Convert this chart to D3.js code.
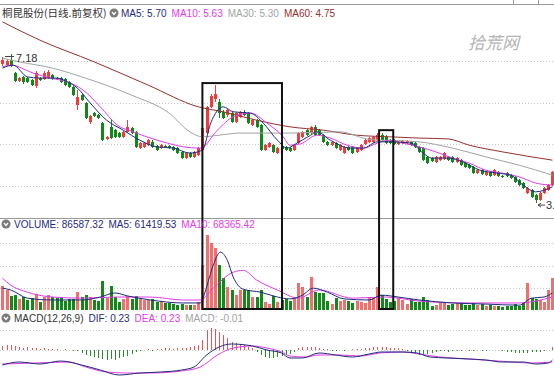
<!DOCTYPE html>
<html><head><meta charset="utf-8">
<script src="https://cdn.jsdelivr.net/npm/d3@7"></script>
<style>
html,body{margin:0;padding:0;background:#fff;overflow:hidden}
svg{display:block}
text{font-family:"Liberation Sans",Arial,"Noto Sans CJK SC",sans-serif}
</style></head>
<body>
<svg id="c" width="554" height="376"></svg>
<script>
// ---------------- DATA ----------------
const title = "桐昆股份(日线.前复权)";
const maLabels = ["MA5", "MA10", "MA30", "MA60"];
const maLegendValues = ["5.70", "5.63", "5.30", "4.75"];
const volLabels = ["VOLUME", "MA5", "MA10"];
const volLegendValues = ["86587.32", "61419.53", "68365.42"];
const macdLabels = ["DIF", "DEA", "MACD"];
const macdLegendValues = ["0.23", "0.23", "-0.01"];
const watermark = "拾荒网";

const open = [6.93,6.90,7.02,6.71,6.52,6.62,6.59,6.54,6.40,6.59,6.57,6.59,6.66,6.59,6.59,6.57,6.50,6.38,5.94,6.18,
6.00,5.54,5.75,5.70,5.51,5.13,5.42,5.34,5.27,5.18,5.30,5.39,5.30,4.91,4.94,4.98,5.06,4.96,4.91,4.96,
4.96,4.94,4.91,4.82,4.67,4.79,4.70,4.74,4.86,5.27,5.90,6.10,6.02,5.78,5.70,5.75,5.54,5.66,5.78,5.75,
5.46,5.58,5.46,4.86,4.94,4.98,4.79,4.96,4.94,4.91,4.86,5.03,5.18,5.34,5.27,5.42,5.34,5.22,5.06,4.98,
5.03,4.86,4.79,4.94,4.94,4.82,4.86,5.01,5.06,5.06,5.10,5.22,5.18,5.10,5.10,5.01,5.03,5.03,5.06,5.03,
4.94,4.91,4.70,4.67,4.58,4.62,4.65,4.70,4.70,4.58,4.62,4.55,4.50,4.46,4.31,4.38,4.26,4.34,4.26,4.34,
4.24,4.31,4.26,4.22,4.14,4.07,3.83,3.90,3.78,3.66,3.83,3.90,4.02];
const high = [7.09,7.05,7.18,6.74,6.62,6.64,6.62,6.57,6.76,6.62,6.76,6.78,6.69,6.62,6.62,6.59,6.52,6.40,6.30,6.21,
6.02,5.70,5.78,5.73,5.54,5.20,5.58,5.37,5.30,5.32,5.58,5.42,5.32,5.06,5.06,5.13,5.10,4.98,5.01,4.98,
4.98,4.96,4.94,4.84,4.82,4.82,4.84,4.94,5.42,5.92,6.20,6.42,6.08,5.82,5.85,5.80,5.78,5.80,5.82,5.78,
5.60,5.61,5.49,5.01,5.06,5.01,4.94,4.98,4.96,4.94,5.01,5.30,5.32,5.37,5.44,5.46,5.37,5.25,5.08,5.08,
5.06,5.01,4.96,4.96,4.96,4.94,5.01,5.13,5.18,5.20,5.27,5.27,5.22,5.13,5.13,5.08,5.10,5.10,5.08,5.06,
4.96,4.94,4.72,4.70,4.72,4.72,4.82,4.72,4.72,4.70,4.65,4.58,4.53,4.48,4.41,4.41,4.36,4.36,4.41,4.36,
4.26,4.34,4.29,4.24,4.17,4.10,3.98,3.93,3.80,3.85,3.98,4.05,4.36];
const low = [6.88,6.88,6.86,6.50,6.50,6.45,6.47,6.40,6.35,6.52,6.54,6.57,6.54,6.54,6.47,6.40,6.35,6.16,5.82,6.04,
5.61,5.49,5.66,5.61,5.08,5.10,5.13,5.15,5.15,5.15,5.27,5.25,4.91,4.89,4.91,4.96,4.91,4.84,4.89,4.91,
4.89,4.84,4.77,4.65,4.65,4.67,4.67,4.72,4.84,5.25,5.87,6.02,5.63,5.61,5.66,5.52,5.51,5.63,5.68,5.49,
5.44,5.40,4.84,4.84,4.91,4.79,4.77,4.86,4.84,4.82,4.84,5.01,5.15,5.20,5.25,5.20,5.20,5.04,4.96,4.96,
4.89,4.84,4.77,4.84,4.77,4.79,4.84,4.98,5.03,5.03,5.08,5.08,5.01,5.01,4.98,4.98,5.01,5.01,4.96,4.91,
4.79,4.60,4.52,4.58,4.55,4.60,4.62,4.60,4.55,4.55,4.48,4.43,4.41,4.29,4.29,4.26,4.24,4.22,4.24,4.22,
4.19,4.22,4.17,4.07,4.00,3.93,3.80,3.71,3.59,3.64,3.80,3.88,4.00];
const close = [7.02,7.00,6.88,6.52,6.59,6.50,6.50,6.42,6.71,6.54,6.71,6.74,6.57,6.57,6.50,6.42,6.38,6.18,6.14,6.06,
5.63,5.68,5.68,5.63,5.10,5.18,5.15,5.18,5.18,5.30,5.42,5.27,4.94,5.03,5.03,5.10,4.94,4.86,4.98,4.94,
4.91,4.86,4.79,4.67,4.79,4.70,4.82,4.91,5.39,5.90,6.16,6.20,5.75,5.63,5.82,5.54,5.75,5.78,5.70,5.51,
5.58,5.42,4.86,4.98,5.03,4.82,4.91,4.89,4.86,4.84,4.98,5.27,5.30,5.22,5.42,5.22,5.22,5.06,4.98,5.06,
4.91,4.98,4.94,4.86,4.79,4.91,4.98,5.10,5.15,5.18,5.22,5.10,5.03,5.03,5.01,5.06,5.08,5.08,4.98,4.94,
4.82,4.62,4.55,4.60,4.70,4.70,4.79,4.62,4.58,4.67,4.50,4.46,4.43,4.31,4.38,4.29,4.34,4.24,4.38,4.24,
4.22,4.24,4.19,4.10,4.02,3.95,3.95,3.74,3.66,3.83,3.95,4.02,4.34];
const volume = [64800,54000,37800,40500,29700,35100,27000,32400,43200,21600,35100,40500,35100,32400,35100,24300,29700,29700,48600,35100,
40500,35100,27000,24300,78300,32400,64800,35100,21600,29700,37800,29700,37800,29700,27000,27000,29700,21600,24300,18900,
18900,16200,13500,16200,13500,13500,13500,21600,121500,202500,180900,167400,121500,86400,62100,54000,40500,54000,54000,54000,
35100,35100,54000,21600,16200,37800,21600,27000,29700,24300,32400,72900,62100,35100,89100,48600,45900,45900,24300,16200,
32400,24300,27000,24300,18900,24300,21600,18900,35100,32400,62100,40500,29700,21600,24300,32400,27000,16200,29700,21600,
21600,35100,27000,10800,13500,18900,18900,13500,16200,18900,18900,13500,13500,18900,13500,16200,10800,13500,10800,10800,
8100,10800,10800,16200,10800,18900,72900,32400,29700,27000,21600,54000,86587];
const macdHist = [0.04,0.05,0.05,0.04,0.03,0.02,0.03,0.02,0.02,0.01,0.02,0.01,0.01,0.01,0.00,0.01,0.00,-0.01,-0.01,-0.03,
-0.05,-0.06,-0.07,-0.08,-0.09,-0.10,-0.09,-0.10,-0.08,-0.07,-0.06,-0.04,-0.02,-0.01,0.00,0.01,-0.01,0.01,0.01,0.02,
0.02,0.01,0.02,0.02,0.02,0.03,0.04,0.05,0.10,0.20,0.22,0.21,0.18,0.15,0.12,0.08,0.07,0.06,0.05,0.03,
0.02,-0.02,-0.05,-0.07,-0.08,-0.08,-0.07,-0.06,-0.05,-0.04,-0.02,0.02,0.03,0.03,0.03,0.03,0.02,0.01,0.01,-0.01,
-0.01,0.00,-0.01,0.00,0.01,0.01,0.01,0.02,0.02,0.03,0.03,0.03,0.03,0.02,0.02,0.02,0.01,-0.01,-0.02,-0.04,
-0.05,-0.05,-0.04,-0.03,-0.02,-0.01,-0.01,-0.02,-0.01,-0.01,-0.01,0.00,-0.01,-0.01,0.00,-0.01,-0.01,0.00,0.00,0.00,
-0.01,-0.02,-0.02,-0.03,-0.03,-0.03,-0.03,-0.02,-0.02,-0.02,-0.01,0.00,0.03];

// moving-average / indicator lines: [candle index, value]
const ma5 = [[0,6.83],[2.6,6.90],[6,6.62],[9,6.59],[13,6.59],[15.6,6.50],[18,6.35],[21,6.00],[25,5.58],[29,5.34],[33,5.10],[37,4.94],[41,4.91],[45,4.79],[48,4.86],[50,5.51],[53,5.90],[55.4,5.78],[59.5,5.75],[62.6,5.51],[66,5.10],[68.3,4.91],[70.7,5.03],[74,5.22],[75.5,5.30],[78.7,5.10],[83.5,4.91],[86.6,4.91],[90,5.06],[93,5.06],[98,5.03],[101,4.79],[103,4.67],[107,4.67],[110.5,4.58],[114.6,4.38],[118.7,4.31],[122,4.26],[125,4.02],[128,3.86],[132,3.98]];
const ma10 = [[0,6.86],[2,6.90],[7.4,6.71],[11.5,6.59],[15.6,6.50],[19.4,6.30],[23.5,5.90],[27.6,5.46],[31.4,5.30],[35.5,5.15],[39.6,5.03],[43.4,4.94],[47.5,4.91],[51.6,5.34],[55.4,5.66],[59.5,5.75],[63.5,5.51],[67.4,5.18],[69,4.98],[71.5,5.01],[75.5,5.22],[78.7,5.15],[82.7,4.98],[86.6,4.91],[90,5.03],[93,5.10],[96,5.03],[100,4.94],[104,4.82],[108,4.67],[112,4.55],[116,4.38],[120,4.31],[124,4.22],[128,4.07],[132,4.02]];
const ma30 = [[0,7.07],[4,6.98],[12,6.83],[19,6.62],[31,6.18],[40,5.75],[45,5.30],[48,5.18],[52,5.22],[57,5.27],[69,5.27],[81,5.30],[88,5.12],[100,5.06],[108,4.91],[116,4.70],[124,4.50],[132,4.26]];
const ma60 = [[0,7.94],[9,7.50],[22,6.98],[35,6.42],[47,5.90],[53,5.78],[61,5.58],[69,5.42],[77,5.34],[85,5.22],[93,5.18],[100,5.15],[107,5.13],[112,4.98],[120,4.82],[132,4.62]];
const volMa5 = [[0,59000],[2,54000],[6,32000],[12,27000],[19,27000],[23.5,35000],[27,46000],[30,38000],[35.5,27000],[43.4,19000],[47.5,19000],[49,62000],[50.6,121000],[52.3,156000],[54,134000],[55.4,89000],[57.8,56000],[62,48000],[66,35000],[69,30000],[72,40000],[74.6,59000],[78,48000],[82,30000],[88,27000],[91,40000],[95,35000],[100,27000],[108,19000],[116,16000],[124,13000],[127,32000],[130,35000],[132,46000]];
const volMa10 = [[0,86000],[2,67000],[6,48000],[12,35000],[19,32000],[27.6,35000],[35.5,35000],[43.4,27000],[47.5,27000],[50.6,59000],[55.4,102000],[57.8,107000],[61,81000],[66,54000],[71,32000],[76,54000],[84,32000],[92,35000],[100,24000],[112,19000],[124,19000],[132,35000]];
const dif = [[0,-0.15],[4,-0.12],[9,-0.14],[14,-0.11],[19,-0.15],[23.5,-0.20],[28,-0.25],[33,-0.23],[38,-0.22],[43,-0.20],[46,-0.17],[49,-0.05],[52,0.03],[55,0.06],[60,0.04],[63.5,0.00],[67,-0.03],[69,-0.08],[72,-0.08],[76,-0.03],[80,-0.05],[84,-0.07],[88,-0.04],[91,-0.02],[96,-0.02],[99.5,-0.03],[102.6,-0.07],[106.7,-0.08],[112,-0.09],[116,-0.10],[120,-0.12],[125,-0.12],[128,-0.14],[131,-0.13],[132,-0.10]];
const dea = [[0,-0.14],[8,-0.13],[16,-0.12],[20,-0.17],[25,-0.22],[30,-0.23],[35.5,-0.23],[43,-0.21],[47.5,-0.17],[51.6,-0.05],[55.4,0.02],[60,0.04],[63.5,0.02],[67,-0.02],[69,-0.06],[72.7,-0.07],[76,-0.05],[81,-0.05],[86,-0.06],[90.6,-0.03],[96,-0.02],[100,-0.04],[105,-0.07],[112,-0.09],[119,-0.11],[127,-0.13],[132,-0.12]];

// annotation boxes: candle index range and top price
const boxes = [{from: 48, to: 67.1, top: 6.47}, {from: 90.4, to: 93.8, top: 5.34}];
const priceGrid = [4, 5, 6, 7];
const volGrid = [60000, 120000, 180000];
const macdGrid = [0.2];

// ---------------- DRAW ----------------
const W = 554, H = 376, N = close.length;
const svg = d3.select("#c");
const RED = "#ef3d3d", RED_V = "#f36f6f", GREEN = "#12881a";
const C_MA5 = "#1f2b7c", C_MA10 = "#e23ce6", C_MA30 = "#a3a3a3", C_MA60 = "#962f2f";

const x = d3.scaleLinear().domain([0, N - 1]).range([2.4, 552.4]);
const yP = d3.scaleLinear().domain([4, 7]).range([186, 61]);
const yV = d3.scaleLinear().domain([0, 180000]).range([310, 243.3]);
const yM = d3.scaleLinear().domain([0, 0.2]).range([350, 330]);

const defs = svg.append("defs");
defs.append("clipPath").attr("id", "cp").append("rect").attr("x", 0).attr("y", 19).attr("width", W).attr("height", 198);
defs.append("clipPath").attr("id", "cv").append("rect").attr("x", 0).attr("y", 219).attr("width", W).attr("height", 92);
defs.append("clipPath").attr("id", "cm").append("rect").attr("x", 0).attr("y", 312).attr("width", W).attr("height", 64);

// top bar line
svg.append("line").attr("x1", 0).attr("x2", W).attr("y1", 4.5).attr("y2", 4.5).attr("stroke", "#9a9a9a");
[513.5, 538.5].forEach(v => svg.append("line").attr("x1", v).attr("x2", v).attr("y1", 0).attr("y2", 4.5).attr("stroke", "#9a9a9a"));

// separators
svg.append("line").attr("x1", 0).attr("x2", W).attr("y1", 218.5).attr("y2", 218.5).attr("stroke", "#9a9a9a");

// gridlines
function grid(vals, scale) {
  svg.append("g").selectAll("line").data(vals).join("line")
    .attr("x1", 0).attr("x2", W)
    .attr("y1", d => Math.round(scale(d)) + 0.5).attr("y2", d => Math.round(scale(d)) + 0.5)
    .attr("stroke", "#c8c8c8").attr("stroke-dasharray", "1,2");
}
grid(priceGrid, yP);
grid(volGrid, yV);
grid(macdGrid.concat([0]), yM);

// watermark
svg.append("text").attr("x", 468).attr("y", 49).text(watermark)
  .attr("font-size", 17).attr("font-style", "italic").attr("fill", "#b4b4b4")
  .style("font-family", "'Noto Sans CJK SC',sans-serif");

const idx = d3.range(N);
const cx = i => Math.round(x(i));
const up = i => close[i] >= open[i];

// candles
const gC = svg.append("g").attr("clip-path", "url(#cp)").attr("shape-rendering", "crispEdges");
gC.selectAll("line").data(idx).join("line")
  .attr("x1", i => cx(i) + 0.5).attr("x2", i => cx(i) + 0.5)
  .attr("y1", i => yP(high[i])).attr("y2", i => yP(low[i]))
  .attr("stroke", i => up(i) ? RED : GREEN);
gC.selectAll("rect").data(idx).join("rect")
  .attr("x", i => cx(i) - 1).attr("width", 3)
  .attr("y", i => Math.min(yP(open[i]), yP(close[i])))
  .attr("height", i => Math.max(1, Math.abs(yP(open[i]) - yP(close[i]))))
  .attr("fill", i => up(i) ? RED : GREEN);

// MA lines
function drawLine(g, pts, scale, color) {
  g.append("path").datum(pts)
    .attr("d", d3.line().x(d => x(d[0])).y(d => scale(d[1])).curve(d3.curveMonotoneX))
    .attr("fill", "none").attr("stroke", color).attr("stroke-width", 1);
}
const gL = svg.append("g").attr("clip-path", "url(#cp)");
drawLine(gL, ma60, yP, C_MA60);
drawLine(gL, ma30, yP, C_MA30);
drawLine(gL, ma10, yP, C_MA10);
drawLine(gL, ma5, yP, C_MA5);

// max / min markers
const hiI = d3.maxIndex(high), loI = d3.minIndex(low);
svg.append("path").attr("d", `M${cx(hiI) - 6},${yP(high[hiI]) + 3} L${cx(hiI) + 3},${yP(high[hiI]) + 3}`)
  .attr("stroke", "#444").attr("fill", "none");
svg.append("text").attr("x", cx(hiI) + 5).attr("y", yP(high[hiI]) + 8).text(high[hiI].toFixed(2))
  .attr("font-size", 11).attr("fill", "#333");
const ly = yP(low[loI]) + 2;
svg.append("path").attr("d", `M${cx(loI) + 2},${ly} L${cx(loI) + 9},${ly} M${cx(loI) + 2},${ly} l3,-2 M${cx(loI) + 2},${ly} l3,2`)
  .attr("stroke", "#444").attr("fill", "none");
svg.append("text").attr("x", cx(loI) + 10).attr("y", ly + 4).text(low[loI].toFixed(2))
  .attr("font-size", 11).attr("fill", "#333");

// volume bars
const gV = svg.append("g").attr("clip-path", "url(#cv)").attr("shape-rendering", "crispEdges");
gV.selectAll("rect").data(idx).join("rect")
  .attr("x", i => cx(i) - 1).attr("width", 3)
  .attr("y", i => yV(volume[i])).attr("height", i => yV(0) - yV(volume[i]))
  .attr("fill", i => up(i) ? RED_V : GREEN);
const gVL = svg.append("g").attr("clip-path", "url(#cv)");
drawLine(gVL, volMa10, yV, C_MA10);
drawLine(gVL, volMa5, yV, C_MA5);

// MACD
const gM = svg.append("g").attr("clip-path", "url(#cm)").attr("shape-rendering", "crispEdges");
gM.selectAll("line").data(idx).join("line")
  .attr("x1", i => cx(i) + 0.5).attr("x2", i => cx(i) + 0.5)
  .attr("y1", yM(0)).attr("y2", i => yM(macdHist[i]))
  .attr("stroke", i => macdHist[i] >= 0 ? "#e85454" : "#2c8a2c");
const gML = svg.append("g").attr("clip-path", "url(#cm)");
drawLine(gML, dea, yM, C_MA10);
drawLine(gML, dif, yM, C_MA5);

// boxes
svg.append("g").selectAll("rect").data(boxes).join("rect")
  .attr("x", d => x(d.from)).attr("width", d => x(d.to) - x(d.from))
  .attr("y", d => yP(d.top)).attr("height", d => yV(0) - 1 - yP(d.top))
  .attr("fill", "none").attr("stroke", "#111").attr("stroke-width", 2);

// headers
function icon(px, py) {
  svg.append("circle").attr("cx", px).attr("cy", py).attr("r", 4.5).attr("fill", "#7a7a7a");
  svg.append("path").attr("d", `M${px - 2},${py - 1} L${px},${py + 1.5} L${px + 2},${py - 1}`)
    .attr("stroke", "#fff").attr("stroke-width", 1.3).attr("fill", "none");
}
function legend(startX, baseY, items) {
  let cur = startX;
  items.forEach(it => {
    const t = svg.append("text").attr("x", cur).attr("y", baseY).text(it.t)
      .attr("font-size", 10).attr("fill", it.c);
    cur += t.node().getComputedTextLength() + (it.gap || 5);
  });
}
svg.append("text").attr("x", 2).attr("y", 17).text(title).attr("font-size", 10.5).attr("fill", "#333")
  .style("font-family", "'Noto Sans CJK SC',sans-serif");
icon(114, 13);
const maCols = [C_MA5, C_MA10, C_MA30, C_MA60];
legend(121, 17, maLabels.map((l, k) => ({t: `${l}: ${maLegendValues[k]}`, c: maCols[k]})));

icon(6, 224);
const volCols = ["#1f2b7c", C_MA5, C_MA10];
legend(14, 228, volLabels.map((l, k) => ({t: `${l}: ${volLegendValues[k]}`, c: volCols[k]})));

icon(6, 318);
const macdCols = [C_MA5, C_MA10, "#a3a3a3"];
legend(14, 322, [{t: "MACD(12,26,9)", c: "#333"}].concat(
  macdLabels.map((l, k) => ({t: `${l}: ${macdLegendValues[k]}`, c: macdCols[k]}))));
</script>
</body></html>
